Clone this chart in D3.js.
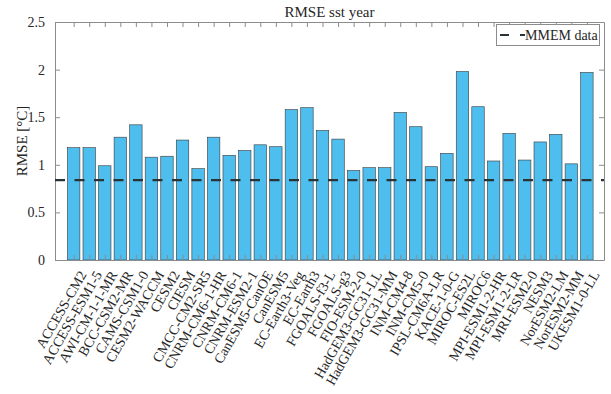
<!DOCTYPE html>
<html><head><meta charset="utf-8">
<script src="https://cdn.jsdelivr.net/npm/d3@7"></script>
<style>body{margin:0;background:#fff}svg{display:block}text{font-family:"Liberation Serif","Times New Roman",serif;fill:#262626}</style>
</head><body><svg id="c" width="611" height="394"></svg>
<script>
const models = ["ACCESS-CM2","ACCESS-ESM1-5","AWI-CM-1-1-MR","BCC-CSM2-MR","CAMS-CSM1-0","CESM2-WACCM","CESM2","CIESM","CMCC-CM2-SR5","CNRM-CM6-1-HR","CNRM-CM6-1","CNRM-ESM2-1","CanESM5-CanOE","CanESM5","EC-Earth3-Veg","EC-Earth3","FGOALS-f3-L","FGOALS-g3","FIO-ESM-2-0","HadGEM3-GC31-LL","HadGEM3-GC31-MM","INM-CM4-8","INM-CM5-0","IPSL-CM6A-LR","KACE-1-0-G","MIROC-ES2L","MIROC6","MPI-ESM1-2-HR","MPI-ESM1-2-LR","MRI-ESM2-0","NESM3","NorESM2-LM","NorESM2-MM","UKESM1-0-LL"];
const rmse = [1.18,1.18,0.99,1.29,1.42,1.08,1.09,1.26,0.96,1.29,1.10,1.15,1.21,1.19,1.58,1.60,1.36,1.27,0.94,0.97,0.97,1.55,1.40,0.98,1.12,1.98,1.61,1.04,1.33,1.05,1.24,1.32,1.01,1.97];
const mmem = 0.84;
const yTicks = [0,0.5,1,1.5,2,2.5];
const yTickLabels = ["0","0.5","1","1.5","2","2.5"];
const title = "RMSE sst year";
const yLabel = "RMSE [°C]";
const legendLabel = "MMEM data";

const svg = d3.select("#c");
const L = 55, R = 604, T = 22, B = 260;
const x = d3.scaleLinear().domain([-0.2, 35.1]).range([L, R]);
const y = d3.scaleLinear().domain([0, 2.5]).range([B, T]);
const idx = models.map((d,i)=>i+1);
const bw = (x(1)-x(0))*0.8;
const axisCol = "#8c8c8c";

// bars
svg.append("g").selectAll("rect").data(rmse).join("rect")
  .attr("x",(d,i)=>x(i+1)-bw/2).attr("width",bw)
  .attr("y",d=>y(d)).attr("height",d=>y(0)-y(d))
  .attr("fill","#4DBEEE").attr("stroke","#3a3a3a").attr("stroke-width",0.6);

// axes
const gB = svg.append("g").attr("transform",`translate(0,${B})`)
  .call(d3.axisBottom(x).tickValues(idx).tickSizeInner(-5).tickSizeOuter(0).tickFormat(""));
const gT = svg.append("g").attr("transform",`translate(0,${T})`)
  .call(d3.axisTop(x).tickValues(idx).tickSizeInner(-5).tickSizeOuter(0).tickFormat(""));
const gL = svg.append("g").attr("transform",`translate(${L},0)`)
  .call(d3.axisLeft(y).tickValues(yTicks).tickSizeInner(-5).tickSizeOuter(0).tickPadding(10).tickFormat((d,i)=>yTickLabels[i]));
const gR = svg.append("g").attr("transform",`translate(${R},0)`)
  .call(d3.axisRight(y).tickValues(yTicks).tickSizeInner(-5).tickSizeOuter(0).tickFormat(""));
[gB,gT,gL,gR].forEach(g=>{
  g.selectAll(".domain").attr("stroke",axisCol);
  g.selectAll(".tick line").attr("stroke",axisCol);
});
gL.selectAll(".tick text").attr("font-size",14).attr("font-family","Liberation Serif").attr("fill","#262626");

// rotated x labels
svg.append("g").selectAll("text").data(models).join("text")
  .attr("transform",(d,i)=>`translate(${x(i+1)+9},${B+12}) rotate(-60)`)
  .attr("text-anchor","end").attr("dy","0.35em")
  .attr("font-size",14).text(d=>d);

// MMEM dashed line
svg.append("line").attr("x1",L).attr("x2",R).attr("y1",y(mmem)).attr("y2",y(mmem))
  .attr("stroke","#2a3336").attr("stroke-width",2.2).attr("stroke-dasharray","10,9.5");

// title & y label
svg.append("text").attr("x",(L+R)/2).attr("y",17).attr("text-anchor","middle").attr("font-size",15).text(title);
svg.append("text").attr("transform",`translate(27,${(T+B)/2}) rotate(-90)`).attr("text-anchor","middle").attr("font-size",15).text(yLabel);

// legend
const lg = svg.append("g");
lg.append("rect").attr("x",496.5).attr("y",24.5).attr("width",103).attr("height",21)
  .attr("fill","#fff").attr("stroke",axisCol);
lg.append("line").attr("x1",500).attr("x2",525).attr("y1",35).attr("y2",35)
  .attr("stroke","#2a3336").attr("stroke-width",2.2).attr("stroke-dasharray","9,11");
lg.append("text").attr("x",525).attr("y",40).attr("font-size",14).text(legendLabel);
</script></body></html>
